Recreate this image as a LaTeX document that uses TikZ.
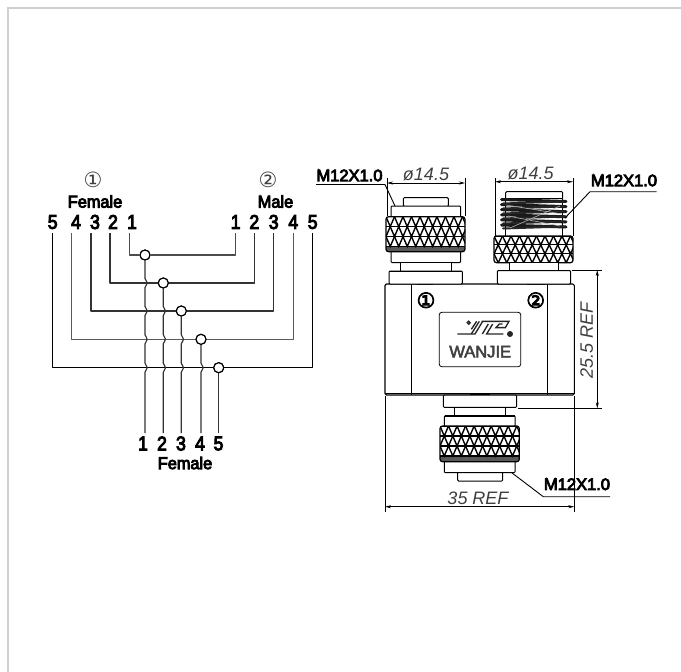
\documentclass[tikz,border=0pt]{standalone}
\usepackage{fontspec}
\setmainfont{Liberation Sans}
\newfontfamily\symfont{DejaVu Sans}
\newfontfamily\symheavy[FakeBold=4]{DejaVu Sans}
\newfontfamily\heavy[FakeBold=5]{Liberation Sans}
\newfontfamily\semiheavy[FakeBold=3]{Liberation Sans}
\usetikzlibrary{arrows.meta,calc}
\definecolor{framegray}{HTML}{D0D0D0}
\definecolor{wiregray}{HTML}{333333}
\newcommand{\txt}[1]{\fontsize{#1}{#1}\selectfont}
\tikzset{
  wire/.style={draw=wiregray,line width=1.15pt,line join=round},
  junction/.style={circle,draw=black,fill=white,line width=1.1pt,minimum size=10pt,inner sep=0pt},
  pinlabel/.style={inner sep=0pt,font=\heavy\txt{20},xscale=.88},
  capt/.style={inner sep=0pt,font=\heavy\txt{17},xscale=.96},
  circnum/.style={inner sep=0pt,font=\symfont\txt{21},text=black!75},
  bodynum/.style={inner sep=0pt,font=\symheavy\txt{21}},
  thread label/.style={inner sep=0pt,font=\heavy\txt{16.5}},
  dimtext/.style={inner sep=0pt,font=\txt{18}\itshape,text=black!75},
  part/.style={draw=black,line width=1pt,fill=white,line join=round},
  extline/.style={draw=black,line width=.75pt},
  dimline/.style={draw=black,line width=.75pt,{Stealth[length=6pt,width=3pt]}-{Stealth[length=6pt,width=3pt]}},
  leader/.style={draw=black,line width=.9pt},
  logoline/.style={draw=black!85,line width=1.35pt,line join=miter}
}
\newcommand{\partbox}[4]{\draw[part,rounded corners=1pt] (#1,#2) rectangle (#3,#4);}
\newcommand{\knurlband}[5]{%
  \begin{scope}
    \path[clip,rounded corners=2.5pt] (#1,#2) rectangle (#3,#4);
    \fill[black!65] (#1,#2) rectangle (#3,#4);
    \fill[white] (#1,#2) rectangle (#3,#5);
    \pgfmathsetmacro{\kh}{(#5-#2)/3}
    \pgfmathsetmacro{\kw}{(#3-#1)/9.3}
    \foreach \rr in {0,1,2}{
      \draw[black,line width=1.1pt] (#1,{#2+\rr*\kh}) -- (#3,{#2+\rr*\kh});
      \foreach \kk in {-1,...,10}{
        \pgfmathsetmacro{\ko}{mod(\rr,2)*0.5}
        \draw[black,line width=1.4pt]
          ({#1+(\kk+\ko)*\kw},{#2+\rr*\kh}) -- ({#1+(\kk+\ko+.5)*\kw},{#2+(\rr+1)*\kh})
          -- ({#1+(\kk+\ko+1)*\kw},{#2+\rr*\kh});
      }
    }
    \draw[black,line width=1.1pt] (#1,#5) -- (#3,#5);
  \end{scope}
  \draw[black,line width=1.2pt,rounded corners=2.5pt] (#1,#2) rectangle (#3,#4);
}
\newcommand{\hopat}[2]{-- (#1,#2-4.5) .. controls (#1,#2-2.5) and (#1+2.2,#2-2.5) .. (#1+2.2,#2) .. controls (#1+2.2,#2+2.5) and (#1,#2+2.5) .. (#1,#2+4.5)}
\begin{document}
\begin{tikzpicture}[x=1pt,y=-1pt]
\useasboundingbox (0,0) rectangle (681,672);
\fill[white] (0,0) rectangle (681,672);
\draw[framegray,line width=2.4pt] (8,672) -- (8,8) -- (681,8);

%%% ---------- wiring schematic ----------
\node[junction] (j1) at (145,255) {};
\node[junction] (j2) at (163.3,283) {};
\node[junction] (j3) at (181.3,311) {};
\node[junction] (j4) at (201,339.3) {};
\node[junction] (j5) at (218.7,367.7) {};
\node[circnum] (cf) at (93,179.5) {①};
\node[capt] (tf) at (95,201.5) {Female};
\foreach \n/\x in {5/52.7,4/76,3/95,2/113,1/132}{
  \node[pinlabel] (l\n) at (\x,222) {\n};
}
\node[circnum] (cm) at (268,179.5) {②};
\node[capt] (tm) at (275.5,201.5) {Male};
\foreach \n/\x in {1/235.7,2/254.3,3/273.7,4/293.3,5/312.7}{
  \node[pinlabel] (r\n) at (\x,222) {\n};
}
\foreach \n/\x in {1/143,2/162,3/181,4/200,5/218.5}{
  \node[pinlabel] (b\n) at (\x,443.5) {\n};
}
\node[capt] (bf) at (185,463) {Female};
\foreach \n/\x in {5/52.7,4/71.7,3/91,2/110,1/129.7}{\coordinate (tl\n) at (\x,233);}
\foreach \n/\x in {1/235.7,2/254.3,3/273.7,4/293.3,5/312.7}{\coordinate (tr\n) at (\x,233);}
\foreach \n/\x in {1/145,2/163.3,3/181.3,4/201,5/218.7}{\coordinate (tb\n) at (\x,433);}
\draw[wire,draw=black!70,line width=1.4pt] (tl1) |- (j1) (j1) -| (tr1);
\draw[wire] (tl2) |- (j2) (j2) -| (tr2);
\draw[wire,line width=1.3pt] (tl3) |- (j3) (j3) -| (tr3);
\draw[wire,draw=black!65,line width=1.3pt] (tl4) |- (j4) (j4) -| (tr4);
\draw[wire,line width=1.3pt,draw=black] (tl5) |- (j5) (j5) -| (tr5);
\draw[wire] (j1) \hopat{145}{283} \hopat{145}{311} \hopat{145}{339.3} \hopat{145}{367.7} -- (tb1);
\draw[wire] (j2) \hopat{163.3}{311} \hopat{163.3}{339.3} \hopat{163.3}{367.7} -- (tb2);
\draw[wire] (j3) \hopat{181.3}{339.3} \hopat{181.3}{367.7} -- (tb3);
\draw[wire] (j4) \hopat{201}{367.7} -- (tb4);
\draw[wire] (j5) -- (tb5);
\foreach \j in {j1,j2,j3,j4,j5}{\fill[white] (\j) circle (4.6pt);\draw[black,line width=1.1pt] (\j) circle (5pt);}

%%% ---------- body ----------
\draw[part,line width=1.1pt,rounded corners=1.5pt] (385,284) rectangle (574.3,395);
\draw[black,line width=1pt] (411.7,284) -- (411.7,395) (547.3,284) -- (547.3,395);
\draw[black,line width=1.6pt] (385.5,393.6) -- (573.8,393.6);
\draw[black,line width=1.6pt] (417,284.6) -- (433,284.6) (527,284.6) -- (545,284.6) (470,394.4) -- (490,394.4);
\draw[black,line width=.8pt,rounded corners=2.5pt] (439.3,312.3) rectangle (520.7,366.7);
\node[bodynum] (n1) at (426,300.2) {①};
\node[bodynum] (n2) at (535.7,300.2) {②};

\begin{scope}[shift={(440,310)},x=0.3333pt,y=-0.3333pt]
  \draw[logoline] (86,38) circle (4.5);
  \draw[logoline] (52,72) -- (105,72) -- (128,34);
  \draw[logoline] (94,58) -- (110,34);
  \draw[logoline] (118,34) -- (94,72);
  \draw[logoline] (125,34) -- (207,34) -- (196,53) -- (168,53) -- (178,42) -- (188,42);
  \draw[logoline] (158,42) -- (140,72) -- (190,72);
  \draw[logoline] (145,42) -- (127,72);
  \fill[black!85] (210,72) circle (9);
\end{scope}
\node[inner sep=0pt,font=\semiheavy\txt{16.5},text=black!75] (wj) at (480.2,351.7) {WANJIE};

%%% ---------- left connector ----------
\partbox{403.3}{197.7}{448.3}{206.5}
\partbox{391}{206}{460.7}{217}
\partbox{391}{250}{460.7}{262.5}
\knurlband{386}{216.7}{465}{251.7}{246.5}
\draw[part] (400,262.5) rectangle (451.7,271);
\draw[part,rounded corners=1pt] (389,271) rectangle (462.3,284);
\draw[black,line width=1.8pt] (390,271.5) -- (461.3,271.5);

%%% ---------- right connector ----------
\partbox{505.7}{191.7}{562.7}{200}
\draw[part] (505.7,198) rectangle (562.7,236);
\begin{scope}
  \foreach \y in {199.5,204.6,...,230}{
    \draw[black!90,line width=3pt,line cap=round] (501.5,\y) -- (566,\y+2);
  }
  \foreach \y in {201.5,206.5,211.5,216.5,221.5,226.5}{
    \draw[black!85,line width=2pt,line cap=round] (503,\y+2) -- (564,\y);
  }
  \draw[white!70!black,line width=.6pt] (506,205) -- (562,214);
  \draw[white!70!black,line width=.6pt] (508,216) -- (560,226);
  \draw[white!70!black,line width=.6pt] (510,228) -- (560,206);
\end{scope}
\knurlband{494}{236}{573}{262.7}{262.7}
\draw[part] (509,262.7) rectangle (558,270.5);
\draw[part,rounded corners=1pt] (497.3,270.5) rectangle (570.7,284);

%%% ---------- bottom connector ----------
\partbox{443.3}{395}{516.7}{407.3}
\draw[part] (454,407.3) rectangle (505,416);
\partbox{444.3}{415.7}{515}{426.5}
\draw[black,line width=1.8pt] (444.8,416) -- (514.5,416);
\partbox{457.7}{472}{502.7}{481}
\partbox{444.3}{461}{515}{472.7}
\knurlband{440}{426}{519.3}{461.7}{456}

%%% ---------- dimensions ----------
\coordinate (d1a) at (387,183); \coordinate (d1b) at (465,183);
\draw[extline] (387,177.5) -- (387,216) (465,177.5) -- (465,216);
\draw[dimline] (d1a) -- (d1b);
\node[dimtext] (d1t) at (426,174.5) {ø14.5};

\coordinate (d2a) at (495,181.7); \coordinate (d2b) at (573,181.7);
\draw[extline] (495,178) -- (495,236) (573,178) -- (573,236);
\draw[dimline] (d2a) -- (d2b);
\node[dimtext] (d2t) at (530.7,173) {ø14.5};

\coordinate (d3a) at (597.3,270); \coordinate (d3b) at (597.3,408.3);
\draw[extline] (571.7,270) -- (601.7,270) (518,408.3) -- (601.7,408.3);
\draw[dimline] (d3a) -- (d3b);
\node[dimtext,rotate=90] (d3t) at (586.7,340) {25.5\ REF};

\coordinate (d4a) at (385,506.7); \coordinate (d4b) at (574.3,506.7);
\draw[extline] (385,396) -- (385,511.5) (574.3,396) -- (574.3,511.5);
\draw[dimline] (d4a) -- (d4b);
\node[dimtext] (d4t) at (478,498) {35\ REF};

%%% ---------- thread callouts ----------
\node[thread label] (m1) at (349.5,175.5) {M12X1.0};
\coordinate (m1a) at (316,184.5); \coordinate (m1b) at (385,184.5); \coordinate (m1c) at (395,206);
\draw[leader] (m1a) -- (m1b) -- (m1c);

\node[thread label] (m2) at (624,180.5) {M12X1.0};
\coordinate (m2a) at (656.7,191.7); \coordinate (m2b) at (590,191.7); \coordinate (m2c) at (565,218);
\draw[leader] (m2a) -- (m2b) -- (m2c);

\node[thread label] (m3) at (577,484.3) {M12X1.0};
\coordinate (m3a) at (610,496.7); \coordinate (m3b) at (543.3,496.7); \coordinate (m3c) at (511.7,472.7);
\draw[leader] (m3a) -- (m3b) -- (m3c);
\end{tikzpicture}
\end{document}
